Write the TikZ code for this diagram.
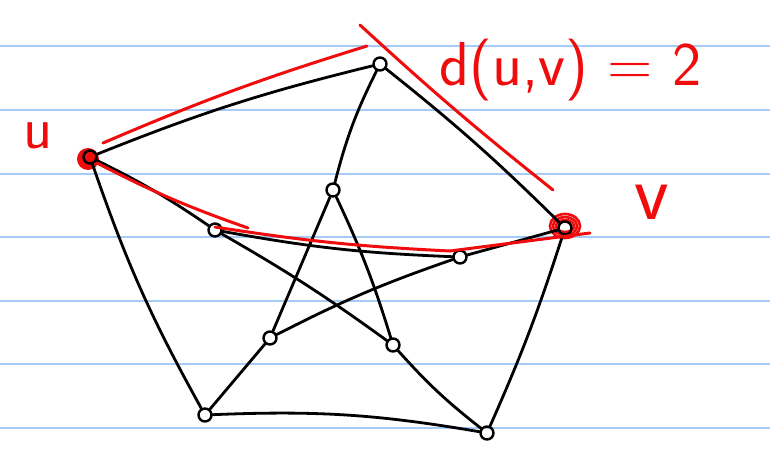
\documentclass[tikz,border=0pt]{standalone}
\usepackage{tikz}
\usetikzlibrary{calc}
\usepackage{xcolor}
\definecolor{ruleblue}{RGB}{166,204,246}
\definecolor{inkred}{RGB}{240,12,12}

\begin{document}
\begin{tikzpicture}[x=1pt,y=-1pt,
  vtx/.style={circle,draw,line width=2.4pt,inner sep=0pt,minimum size=13pt},
  edge/.style={line width=2.8pt,line cap=round},
  hl/.style={inkred,line width=3pt,line cap=round},
  every node/.style={font=\sffamily}]
  \useasboundingbox (0,0) rectangle (770,450);
  \fill[white] (0,0) rectangle (770,450);
  \foreach \y in {46,110,174,237,301,364,428}
    \draw[ruleblue,line width=1.8pt] (0,\y) -- (770,\y);
  % red scribbles under u and v
  \fill[inkred] (88,159) circle (11);
  \foreach \r in {6,9,12}
    \draw[inkred,line width=2.6pt] (565,226) ellipse ({\r+3} and \r);
  % outer vertices
  \node[vtx] (T) at (380,64) {};
  \node[vtx] (u) at (90,157) {};
  \node[vtx] (v) at (565,228) {};
  \node[vtx] (BL) at (205,415) {};
  \node[vtx] (BR) at (487,433) {};
  % inner vertices
  \node[vtx] (I1) at (333,190) {};
  \node[vtx] (I2) at (215,230) {};
  \node[vtx] (I3) at (460,257) {};
  \node[vtx] (I4) at (270,338) {};
  \node[vtx] (I5) at (393,345) {};
  % outer cycle
  \draw[edge] (u) to[bend left=4] (T);
  \draw[edge] (T) to[bend left=3] (v);
  \draw[edge] (v) to[bend left=3] (BR);
  \draw[edge] (BR) to[bend right=6] (BL);
  \draw[edge] (BL) to[bend left=5] (u);
  % spokes
  \draw[edge] (T) to[bend right=6] (I1);
  \draw[edge] (u) to[bend left=4] (I2);
  \draw[edge] (v) -- (I3);
  \draw[edge] (BL) -- (I4);
  \draw[edge] (BR) to[bend left=5] (I5);
  % inner star
  \draw[edge] (I1) -- (I4);
  \draw[edge] (I1) to[bend left=4] (I5);
  \draw[edge] (I2) to[bend right=4] (I3);
  \draw[edge] (I2) to[bend left=3] (I5);
  \draw[edge] (I3) to[bend right=4] (I4);
  % red path marks
  \coordinate (uT1) at (103,143);
  \coordinate (uT2) at (367,46);
  \draw[hl] (uT1) to[bend left=3] (uT2);
  \coordinate (d1) at (360,25);
  \coordinate (d2) at (553,190);
  \draw[hl] (d1) to[bend right=2] (d2);
  \coordinate (uI1) at (97,163);
  \coordinate (uI2) at (248,228);
  \draw[hl] (uI1) to[bend right=4] (uI2);
  \coordinate (p1) at (215,227);
  \coordinate (p2) at (450,251);
  \coordinate (p3) at (590,233);
  \draw[hl] (p1) to[bend right=3] (p2) -- (p3);
  % labels
  \node[inkred,font=\sffamily\fontsize{62}{62}\selectfont,anchor=west] (dist) at (436,70) {d(u,v) = 2};
  \node[inkred,font=\sffamily\fontsize{60}{60}\selectfont] (ulab) at (38,136) {u};
  \node[inkred,font=\sffamily\fontsize{80}{80}\selectfont] (vlab) at (652,202) {v};
\end{tikzpicture}
\end{document}
